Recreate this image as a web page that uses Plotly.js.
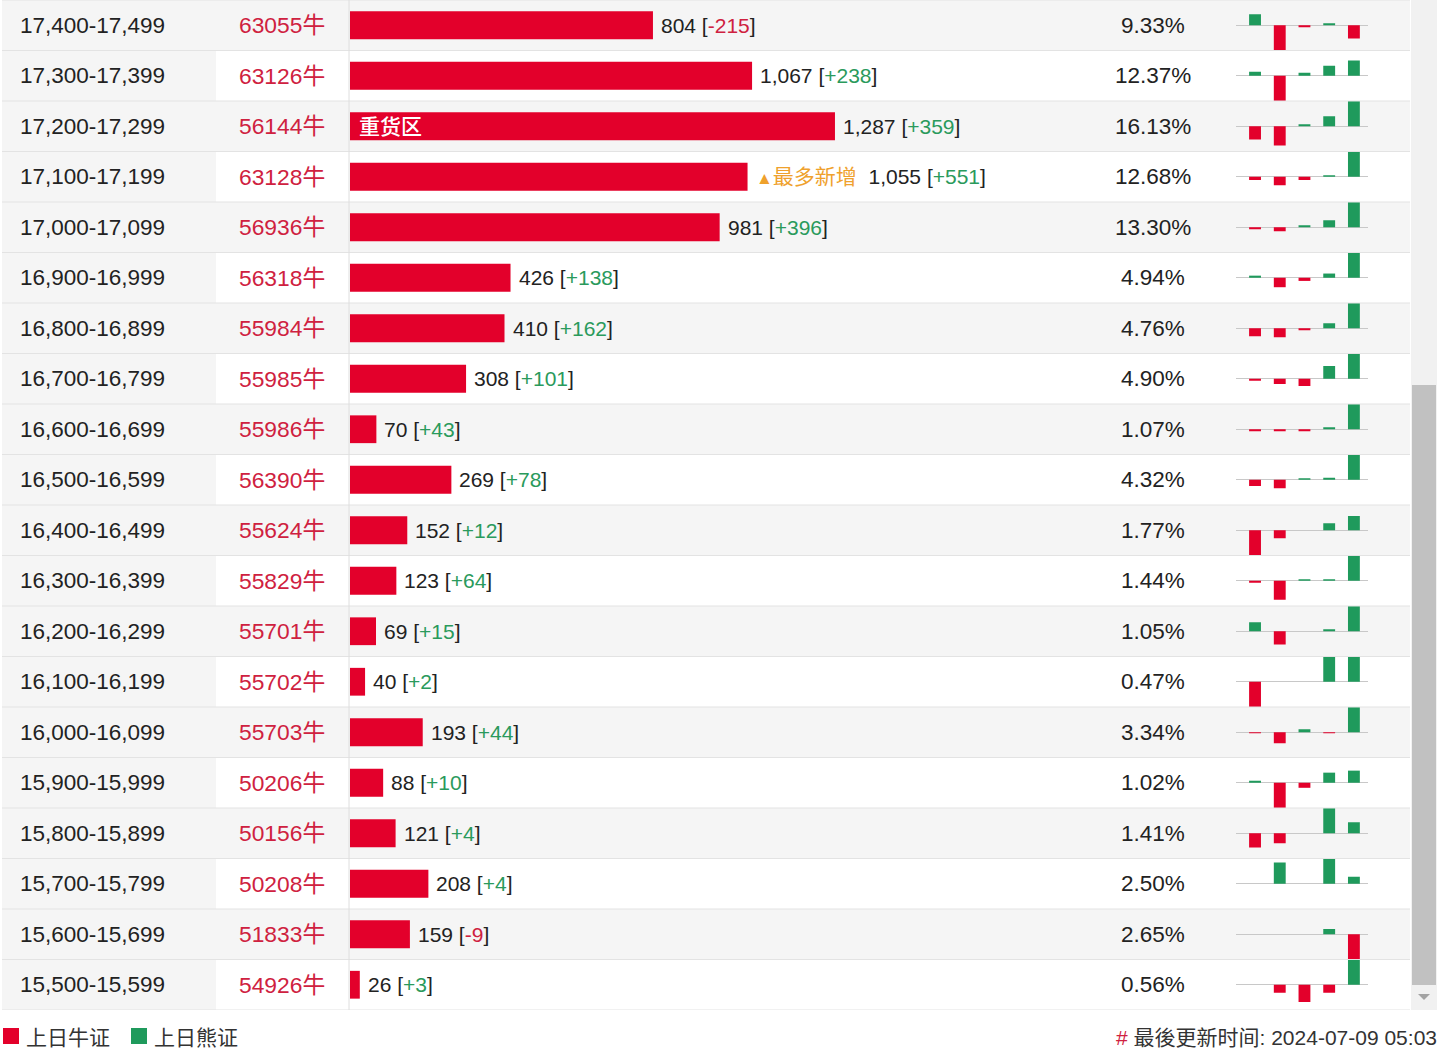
<!DOCTYPE html>
<html>
<head>
<meta charset="utf-8">
<script src="https://cdn.plot.ly/plotly-3.0.1.min.js"></script>
<style>html,body{margin:0;padding:0;background:#fff;overflow:hidden}</style>
</head>
<body>
<div id="chart" style="width:1441px;height:1054px"></div>
<script>
// ---------- data ----------
const RANGES = ["17,400-17,499","17,300-17,399","17,200-17,299","17,100-17,199","17,000-17,099",
  "16,900-16,999","16,800-16,899","16,700-16,799","16,600-16,699","16,500-16,599",
  "16,400-16,499","16,300-16,399","16,200-16,299","16,100-16,199","16,000-16,099",
  "15,900-15,999","15,800-15,899","15,700-15,799","15,600-15,699","15,500-15,599"];
const CODES = ["63055牛","63126牛","56144牛","63128牛","56936牛","56318牛","55984牛","55985牛","55986牛","56390牛",
  "55624牛","55829牛","55701牛","55702牛","55703牛","50206牛","50156牛","50208牛","51833牛","54926牛"];
const COUNTS = [804,1067,1287,1055,981,426,410,308,70,269,152,123,69,40,193,88,121,208,159,26];
const DELTAS = [-215,238,359,551,396,138,162,101,43,78,12,64,15,2,44,10,4,4,-9,3];
const SHARES = ["9.33%","12.37%","16.13%","12.68%","13.30%","4.94%","4.76%","4.90%","1.07%","4.32%",
  "1.77%","1.44%","1.05%","0.47%","3.34%","1.02%","1.41%","2.50%","2.65%","0.56%"];
// five-day change sparkline (relative values)
const DAYS = [1,2,3,4,5];
const DAY1 = [11,4,-13,-3,-2,2,-8,-2,-2,-6,-25,-2,9,-25,-1,2,-14,0,0,0];
const DAY2 = [-25,-25,-19,-8,-4,-9,-9,-5,-2,-8,-8,-18,-13,0,-11,-25,-10,21,0,-8];
const DAY3 = [-2,3,2,-3,2,-3,-2,-7,-2,1.5,0,1.5,0,0,3,-5,0,0,0,-17];
const DAY4 = [2,10,10,1.5,7,4,5,12,2,2,7,1.5,2,25,-1,10,25,25,5,-8];
const DAY5 = [-13,15,25,24,25,24,25,24,25,24,14,24,25,25,25,12,11,7,-24,25];
const LEGEND_NAMES = ["上日牛证","上日熊证"];
const HEAVY_LABEL = "重货区";
const MOST_ADDED_LABEL = "最多新增";
const UPDATED_LABEL = "最後更新时间: 2024-07-09 05:03";

// ---------- style ----------
const W = 1441, H = 1054, N = RANGES.length, ROW_H = 1010 / N;
const RED = "#e3002b", GREEN = "#1f9a5c";
const RED_TXT = "#cf2140", GREEN_TXT = "#2a9a5c", ORANGE = "#efa12c", DARK = "#222";
const GRAYBG = "#f5f5f5", LINE = "#e3e3e3";
const FONT = "'Liberation Sans', Arial, 'Noto Sans CJK SC', sans-serif";
const px = x => x / W, py = y => 1 - y / H;

const heavyIdx = COUNTS.indexOf(Math.max(...COUNTS));
const mostIdx = DELTAS.indexOf(Math.max(...DELTAS));

const traces = [{
  type: "bar", orientation: "h", x: COUNTS, y: RANGES, xaxis: "x", yaxis: "y",
  marker: {color: RED}, width: 0.55, hoverinfo: "skip", showlegend: false
}];

const layout = {
  width: W, height: H, margin: {l: 0, r: 0, t: 0, b: 0},
  paper_bgcolor: "#fff", plot_bgcolor: "rgba(0,0,0,0)", showlegend: false,
  font: {family: FONT, size: 22, color: DARK},
  xaxis: {domain: [px(350), px(1410)], range: [0, 2813], visible: false, fixedrange: true},
  yaxis: {domain: [py(1010), py(0)], type: "category", categoryorder: "array", categoryarray: RANGES,
          range: [N - 0.5, -0.5], visible: false, fixedrange: true},
  xaxis2: {domain: [px(1236), px(1368)], range: [0.23, 5.57], visible: false, anchor: "y2", fixedrange: true},
  shapes: [], annotations: []
};

const fmt = n => n.toLocaleString("en-US");

for (let i = 0; i < N; i++) {
  // sparkline
  const vals = [DAY1[i], DAY2[i], DAY3[i], DAY4[i], DAY5[i]];
  const M = Math.max(...vals.map(Math.abs)) || 1;
  traces.push({
    type: "bar", x: DAYS, y: vals, xaxis: "x2", yaxis: "y" + (i + 2),
    marker: {color: vals.map(v => v < 0 ? RED : GREEN)}, width: 0.48,
    hoverinfo: "skip", showlegend: false
  });
  layout["yaxis" + (i + 2)] = {
    domain: [py((i + 1) * ROW_H), py(i * ROW_H)], range: [-M, M], anchor: "x2",
    showticklabels: false, ticks: "", showgrid: false, showline: false,
    zeroline: true, zerolinecolor: "#c8c8c8", zerolinewidth: 1, fixedrange: true
  };

  // row backgrounds
  if (i % 2 === 0) {
    layout.shapes.push({type: "rect", layer: "below", xref: "paper", yref: "y",
      x0: px(2), x1: px(1410), y0: i - 0.5, y1: i + 0.5, fillcolor: GRAYBG, line: {width: 0}});
  } else {
    layout.shapes.push({type: "rect", layer: "below", xref: "paper", yref: "y",
      x0: px(2), x1: px(216), y0: i - 0.5, y1: i + 0.5, fillcolor: GRAYBG, line: {width: 0}});
  }

  // text cells
  layout.annotations.push({xref: "paper", yref: "y", x: px(18), y: RANGES[i], xanchor: "left",
    text: RANGES[i], showarrow: false, font: {size: 22.5, color: DARK}});
  layout.annotations.push({xref: "paper", yref: "y", x: px(282), y: RANGES[i], xanchor: "center",
    text: CODES[i], showarrow: false, font: {size: 22.8, color: RED_TXT}});
  layout.annotations.push({xref: "paper", yref: "y", x: px(1153), y: RANGES[i], xanchor: "center",
    text: SHARES[i], showarrow: false, font: {size: 22.5, color: DARK}});

  const d = DELTAS[i];
  const dTxt = `<span style="color:${d < 0 ? RED_TXT : GREEN_TXT}">${d < 0 ? d : "+" + d}</span>`;
  let label = `${fmt(COUNTS[i])} [${dTxt}]`;
  if (i === mostIdx) {
    label = `<span style="color:${ORANGE};font-size:17px">▲</span><span style="color:${ORANGE}">${MOST_ADDED_LABEL}</span>\u00a0 ` + label;
  }
  layout.annotations.push({xref: "x", yref: "y", x: COUNTS[i], y: RANGES[i], xanchor: "left", xshift: 6,
    text: label, showarrow: false, font: {size: 21, color: DARK}});
  if (i === heavyIdx) {
    layout.annotations.push({xref: "x", yref: "y", x: 0, y: RANGES[i], xanchor: "left", xshift: 7,
      text: HEAVY_LABEL, showarrow: false, font: {size: 21, color: "#fff", weight: 500}});
  }
}

// row separators and column divider
for (let i = 0; i <= N; i++) {
  layout.shapes.push({type: "line", xref: "paper", yref: "y", x0: px(2), x1: px(1410),
    y0: i - 0.5, y1: i - 0.5, line: {color: LINE, width: 1}});
}
layout.shapes.push({type: "line", xref: "paper", yref: "paper", x0: px(349), x1: px(349),
  y0: py(1010), y1: py(0), line: {color: "#dedede", width: 1}});

// scrollbar look
layout.shapes.push({type: "rect", xref: "paper", yref: "paper", x0: px(1411), x1: px(1437),
  y0: py(1010), y1: py(0), fillcolor: "#f1f1f1", line: {width: 0}});
layout.shapes.push({type: "rect", xref: "paper", yref: "paper", x0: px(1412), x1: px(1436),
  y0: py(985), y1: py(385), fillcolor: "#c1c1c1", line: {width: 0}});
layout.shapes.push({type: "path", xref: "paper", yref: "paper",
  path: `M${px(1418)},${py(994)} L${px(1430)},${py(994)} L${px(1424)},${py(1000)} Z`,
  fillcolor: "#a3a3a3", line: {width: 0}});

// legend
[RED, GREEN].forEach((c, k) => {
  const x0 = k === 0 ? 3 : 131;
  layout.shapes.push({type: "rect", xref: "paper", yref: "paper", x0: px(x0), x1: px(x0 + 16),
    y0: py(1044), y1: py(1028), fillcolor: c, line: {width: 0}});
  layout.annotations.push({xref: "paper", yref: "paper", x: px(x0 + 21), y: py(1037), xanchor: "left",
    yanchor: "middle", text: LEGEND_NAMES[k], showarrow: false, font: {size: 21, color: "#333"}});
});
layout.annotations.push({xref: "paper", yref: "paper", x: px(1439), y: py(1037), xanchor: "right",
  yanchor: "middle", text: `<span style="color:${RED_TXT}">#</span> ${UPDATED_LABEL}`, showarrow: false,
  font: {size: 21, color: "#333"}});

Plotly.newPlot("chart", traces, layout, {staticPlot: true, displayModeBar: false});
</script>
</body>
</html>
